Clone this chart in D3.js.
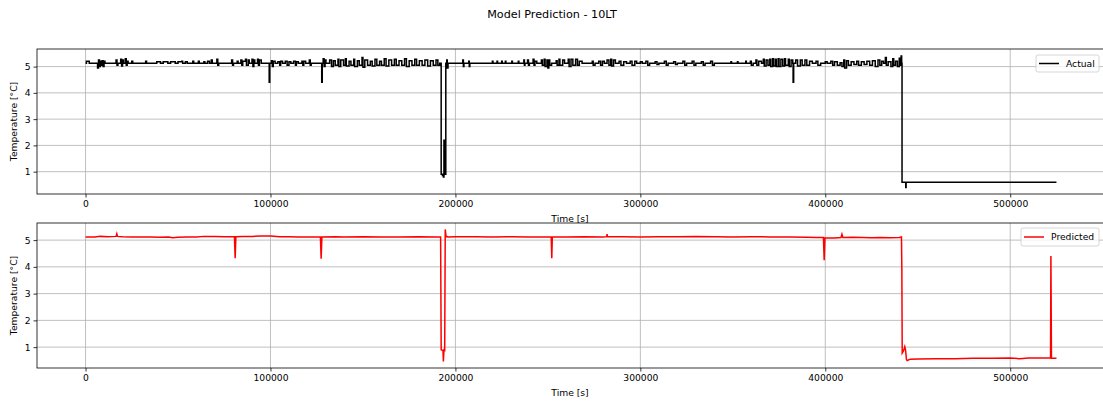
<!DOCTYPE html>
<html>
<head>
<meta charset="utf-8">
<script src="https://cdn.jsdelivr.net/npm/d3@7"></script>
<style>
  html, body { margin: 0; padding: 0; background: #fff; }
  svg { display: block; font-family: "DejaVu Sans", sans-serif; }
</style>
</head>
<body>
<svg id="chart" width="1103" height="401"></svg>
<script>
// ---- data: [time (s), temperature (°C)] ----
const actualSeries = [
  [0,5.13],[500,5.2],[1500,5.2],[2000,5.13],
  [6000,5.13],[6500,4.95],[7000,5.25],[7500,5.0],[8000,5.2],[8500,5.05],[9000,5.22],[9500,5.0],[10000,5.2],[10500,5.13],
  [16000,5.13],[16500,5.25],[17000,5.05],[17500,5.13],[19000,5.28],[19500,5.02],[20000,5.25],[20500,5.13],[21500,5.3],[22000,5.05],[22500,5.2],[23000,5.13],[25000,5.2],[25500,5.13],
  [32000,5.13],[32500,5.2],[33000,5.13],
  [38000,5.13],[38500,5.18],[40000,5.18],[40500,5.13],[42000,5.18],[44000,5.18],[44500,5.13],[46000,5.18],[48000,5.18],[48500,5.13],[50000,5.18],[52000,5.2],[52500,5.13],[54000,5.18],[55000,5.13],
  [58000,5.2],[58500,5.13],[61000,5.2],[61500,5.13],[64000,5.18],[64500,5.13],[66000,5.2],[67000,5.13],[68000,5.25],[68500,5.13],
  [71000,5.28],[71500,5.05],[72000,5.13],
  [79000,5.25],[79500,5.05],[80000,5.13],[82000,5.2],[82500,5.13],[84000,5.25],[84500,5.05],[85000,5.2],[86500,5.28],[87000,5.05],[88000,5.25],[88500,5.13],[90000,5.28],[90500,5.0],[91000,5.25],[91500,5.13],[93000,5.28],[93500,5.05],[94000,5.25],[95000,5.13],
  [99000,5.13],[99300,4.4],[99600,5.13],
  [100500,5.22],[101000,5.0],[101500,5.2],[102500,5.13],[104000,5.18],[105000,5.05],[105500,5.2],[106500,5.13],[108000,5.2],[109000,5.05],[110000,5.18],[111000,5.13],[112500,5.2],[113500,5.05],[114000,5.18],[115000,5.13],[117000,5.2],[117500,5.05],[118000,5.2],[119000,5.13],[121000,5.25],[121500,5.05],[122000,5.13],
  [127500,5.13],[127700,4.4],[128000,5.13],[128500,5.3],[129000,5.0],[129500,5.25],[130000,5.13],
  [132000,5.25],[133000,5.0],[134000,5.22],[135000,5.05],[136500,5.28],[137000,5.0],[138000,5.25],[139500,5.05],[140500,5.3],[141000,5.02],[142500,5.2],[143500,5.05],[145000,5.28],[145500,5.0],[147000,5.22],[148000,5.05],[149500,5.35],[150000,4.98],[151000,5.25],[152500,5.05],[154000,5.2],[155000,5.02],[156500,5.28],[157500,5.05],[159000,5.2],[160000,5.05],[161500,5.3],[162500,5.02],[164000,5.25],[165500,5.05],[167000,5.28],[168000,5.05],[169500,5.22],[171000,5.05],[172500,5.3],[173500,5.0],[175000,5.22],[176500,5.05],[178000,5.28],[179000,5.05],[180500,5.22],[182000,5.05],[183500,5.25],[185000,5.02],[186500,5.22],[188000,5.05],[189500,5.25],[190500,5.05],[191500,5.13],
  [192200,5.13],[192300,0.9],[193000,0.85],[193500,0.8],[193800,2.2],[194000,0.9],[194600,0.9],[194800,5.13],[195300,5.25],[195600,4.95],[196000,5.13],
  [203500,5.13],[204000,5.25],[204300,5.0],[204600,5.13],[207200,5.2],[207500,5.0],[207800,5.13],
  [220000,5.2],[220300,5.13],[222500,5.2],[222800,5.13],[225000,5.2],[225300,5.13],[227000,5.2],[227300,5.13],[230500,5.2],[230800,5.13],[234000,5.2],[234300,5.13],[237000,5.25],[237300,5.05],[237600,5.13],
  [239000,5.25],[239500,5.05],[240000,5.13],[242000,5.28],[242500,5.05],[243000,5.2],[244000,5.13],[246500,5.25],[247000,5.05],[248000,5.28],[248500,5.0],[249500,5.25],[250000,4.95],[250500,5.25],[251000,5.05],[252000,5.13],[254500,5.22],[255000,5.05],[256000,5.28],[256500,5.05],[258000,5.25],[259000,5.13],[261000,5.28],[261500,5.0],[262500,5.28],[263500,5.05],[265000,5.28],[266000,5.05],[267000,5.2],[268500,5.13],
  [274000,5.2],[274500,5.05],[275500,5.13],[277500,5.2],[278500,5.05],[279500,5.2],[280500,5.13],[282000,5.25],[283000,5.05],[284000,5.28],[284500,5.02],[285500,5.25],[286500,5.13],[288500,5.2],[289500,5.05],[291000,5.18],[292500,5.13],[294500,5.2],[295500,5.05],[297000,5.2],[298000,5.13],
  [300000,5.18],[301000,5.13],[303000,5.2],[304000,5.05],[305000,5.13],[308000,5.18],[309000,5.08],[310000,5.13],[313000,5.2],[314000,5.05],[315000,5.13],[318000,5.18],[319000,5.08],[320000,5.13],[323000,5.2],[324000,5.05],[325000,5.13],
  [328000,5.2],[329000,5.05],[330000,5.13],[333000,5.18],[334000,5.05],[335000,5.13],[338000,5.2],[339000,5.05],[340000,5.13],
  [349000,5.18],[349300,5.13],[352500,5.18],[352800,5.13],[357000,5.2],[357300,5.13],
  [359500,5.2],[360000,5.05],[361000,5.13],[362500,5.25],[363000,5.05],[364000,5.2],[365500,5.13],[366500,5.28],[367000,5.02],[368000,5.25],[369000,5.05],[370000,5.28],[370500,5.0],[371500,5.3],[372000,5.02],[373000,5.28],[373500,5.0],[374500,5.3],[375000,5.0],[376000,5.28],[377000,5.02],[378000,5.3],[378500,5.05],[380000,5.28],[380500,5.0],[381500,5.25],[382400,5.13],[382600,4.4],[382900,5.13],[384000,5.25],[385000,5.02],[386500,5.25],[387500,5.05],[389000,5.25],[390000,5.05],[391500,5.2],[393000,5.13],[395000,5.2],[396000,5.05],[397500,5.13],[400000,5.18],[401000,5.13],
  [403000,5.2],[404000,5.05],[405000,5.18],[406500,5.05],[408000,5.15],[409000,5.0],[410000,5.25],[410500,4.95],[411500,5.22],[412500,5.05],[414000,5.18],[415500,5.08],[417000,5.2],[418000,5.05],[419500,5.18],[421000,5.08],[422500,5.2],[424000,5.05],[425500,5.22],[427000,5.0],[428500,5.25],[429500,5.05],[430500,5.2],[431500,5.13],[432500,5.35],[433000,5.05],[434000,5.18],[435500,5.0],[436500,5.3],[437000,5.05],[438000,5.2],[439000,5.0],[440000,5.32],[440500,5.05],[441000,5.4],[441300,5.13],
  [441500,0.6],[443300,0.6],[443500,0.4],[443700,0.6],[525000,0.6]
];

const predictedSeries = [
  [0,5.12],[5000,5.12],[8000,5.14],[12000,5.13],[16500,5.14],[16900,5.24],[17300,5.14],[20000,5.13],[25000,5.12],[30000,5.12],[35000,5.12],[40000,5.11],[45000,5.12],[47000,5.09],[50000,5.11],[55000,5.12],[60000,5.12],[64000,5.14],[70000,5.14],[75000,5.13],
  [80500,5.13],[80900,4.32],[81300,5.13],[85000,5.14],[90000,5.14],[95000,5.15],[100000,5.15],[105000,5.13],[110000,5.13],[115000,5.12],[120000,5.12],[125000,5.12],
  [127000,5.12],[127400,4.3],[127800,5.12],[135000,5.13],[140000,5.12],[150000,5.13],[160000,5.12],[170000,5.12],[180000,5.13],[190000,5.12],
  [192000,5.12],[192300,0.9],[193000,0.88],[193300,0.85],[193500,0.46],[193800,0.9],[194200,0.88],[194500,5.4],[194900,5.15],[196000,5.12],
  [200000,5.13],[210000,5.13],[220000,5.12],[230000,5.13],[240000,5.12],[250000,5.12],[251800,5.12],[252100,4.32],[252400,5.12],[260000,5.12],[270000,5.13],[280000,5.12],[281800,5.13],[282000,5.22],[282200,5.13],
  [290000,5.13],[300000,5.12],[310000,5.13],[320000,5.13],[330000,5.14],[340000,5.13],[350000,5.12],[360000,5.13],[370000,5.12],[380000,5.12],[390000,5.11],[395000,5.1],
  [399000,5.1],[399400,4.25],[399800,5.08],[405000,5.08],[408500,5.1],[409000,5.22],[409500,5.1],[415000,5.11],[420000,5.1],[425000,5.09],[430000,5.1],[435000,5.09],[440000,5.1],
  [441200,5.12],[441400,3.88],[441600,0.78],[442200,0.85],[442700,0.95],[443000,1.02],[443400,0.9],[443900,0.53],[444300,0.5],[446000,0.55],
  [450000,0.56],[460000,0.57],[470000,0.57],[480000,0.58],[490000,0.58],[500000,0.59],[505000,0.57],[510000,0.59],[515000,0.59],[521800,0.59],[522000,4.41],[522300,0.58],[525000,0.58]
];

const xTicks = [0, 100000, 200000, 300000, 400000, 500000];
const yTicks = [1, 2, 3, 4, 5];
const titleText = "Model Prediction - 10LT";
const xLabel = "Time [s]";
const yLabel = "Temperature [°C]";

// ---- layout ----
const svg = d3.select("#chart");
const left = 37, right = 1105;
const panels = [
  { data: actualSeries, name: "Actual", color: "#000000", curve: d3.curveStepAfter,
    top: 49, bottom: 194, yDomain: [0.15, 5.67],
    legend: { x: 1036, y: 55, w: 63, h: 17 } },
  { data: predictedSeries, name: "Predicted", color: "#ff0000", curve: d3.curveLinear,
    top: 223, bottom: 368, yDomain: [0.22, 5.64],
    legend: { x: 1021, y: 228, w: 78, h: 18 } }
];

const x = d3.scaleLinear().domain([-26250, 551250]).range([left, right]);

svg.append("text")
  .attr("x", 552).attr("y", 18)
  .attr("text-anchor", "middle")
  .attr("font-size", 11.2)
  .attr("fill", "#000")
  .text(titleText);

panels.forEach((p, i) => {
  const y = d3.scaleLinear().domain(p.yDomain).range([p.bottom, p.top]);
  const g = svg.append("g");

  // grid
  g.append("g").selectAll("line").data(xTicks).join("line")
    .attr("x1", d => x(d)).attr("x2", d => x(d))
    .attr("y1", p.top).attr("y2", p.bottom)
    .attr("stroke", "#b0b0b0").attr("stroke-width", 0.8);
  g.append("g").selectAll("line").data(yTicks).join("line")
    .attr("x1", left).attr("x2", right)
    .attr("y1", d => y(d)).attr("y2", d => y(d))
    .attr("stroke", "#b0b0b0").attr("stroke-width", 0.8);

  // series line
  const clipId = "clip" + i;
  svg.append("clipPath").attr("id", clipId)
    .append("rect").attr("x", left).attr("y", p.top)
    .attr("width", right - left).attr("height", p.bottom - p.top);
  const line = d3.line().curve(p.curve).x(d => x(d[0])).y(d => y(d[1]));
  g.append("path")
    .datum(p.data)
    .attr("clip-path", `url(#${clipId})`)
    .attr("fill", "none")
    .attr("stroke", p.color)
    .attr("stroke-width", 1.5)
    .attr("d", line);

  // spines
  g.append("rect")
    .attr("x", left).attr("y", p.top)
    .attr("width", right - left).attr("height", p.bottom - p.top)
    .attr("fill", "none").attr("stroke", "#000").attr("stroke-width", 0.8);

  // axes
  const xAxis = d3.axisBottom(x).tickValues(xTicks).tickFormat(d3.format("d"))
    .tickSize(3.5).tickSizeOuter(0).tickPadding(3);
  const gx = g.append("g").attr("transform", `translate(0,${p.bottom})`).call(xAxis);
  const yAxis = d3.axisLeft(y).tickValues(yTicks).tickFormat(d3.format("d"))
    .tickSize(3.5).tickSizeOuter(0).tickPadding(3);
  const gy = g.append("g").attr("transform", `translate(${left},0)`).call(yAxis);
  [gx, gy].forEach(a => {
    a.select(".domain").remove();
    a.selectAll(".tick line").attr("stroke", "#000").attr("stroke-width", 0.8);
    a.selectAll(".tick text").attr("font-size", 9.2).attr("fill", "#000")
      .attr("font-family", "DejaVu Sans, sans-serif");
  });

  // axis labels
  g.append("text")
    .attr("x", (left + right) / 2 - 1).attr("y", p.bottom + 28)
    .attr("text-anchor", "middle").attr("font-size", 9.2).attr("fill", "#000")
    .text(xLabel);
  g.append("text")
    .attr("transform", `translate(17,${(p.top + p.bottom) / 2}) rotate(-90)`)
    .attr("text-anchor", "middle").attr("font-size", 9.2).attr("fill", "#000")
    .text(yLabel);

  // legend
  const lg = g.append("g");
  lg.append("rect")
    .attr("x", p.legend.x).attr("y", p.legend.y)
    .attr("width", p.legend.w).attr("height", p.legend.h)
    .attr("rx", 2)
    .attr("fill", "#fff").attr("fill-opacity", 0.8)
    .attr("stroke", "#cccccc").attr("stroke-width", 0.8);
  const ly = p.legend.y + p.legend.h / 2;
  lg.append("line")
    .attr("x1", p.legend.x + 3).attr("x2", p.legend.x + 23)
    .attr("y1", ly).attr("y2", ly)
    .attr("stroke", p.color).attr("stroke-width", 1.5);
  lg.append("text")
    .attr("x", p.legend.x + 30).attr("y", ly + 3.3)
    .attr("font-size", 9.2).attr("fill", "#000")
    .text(p.name);
});
</script>
</body>
</html>
